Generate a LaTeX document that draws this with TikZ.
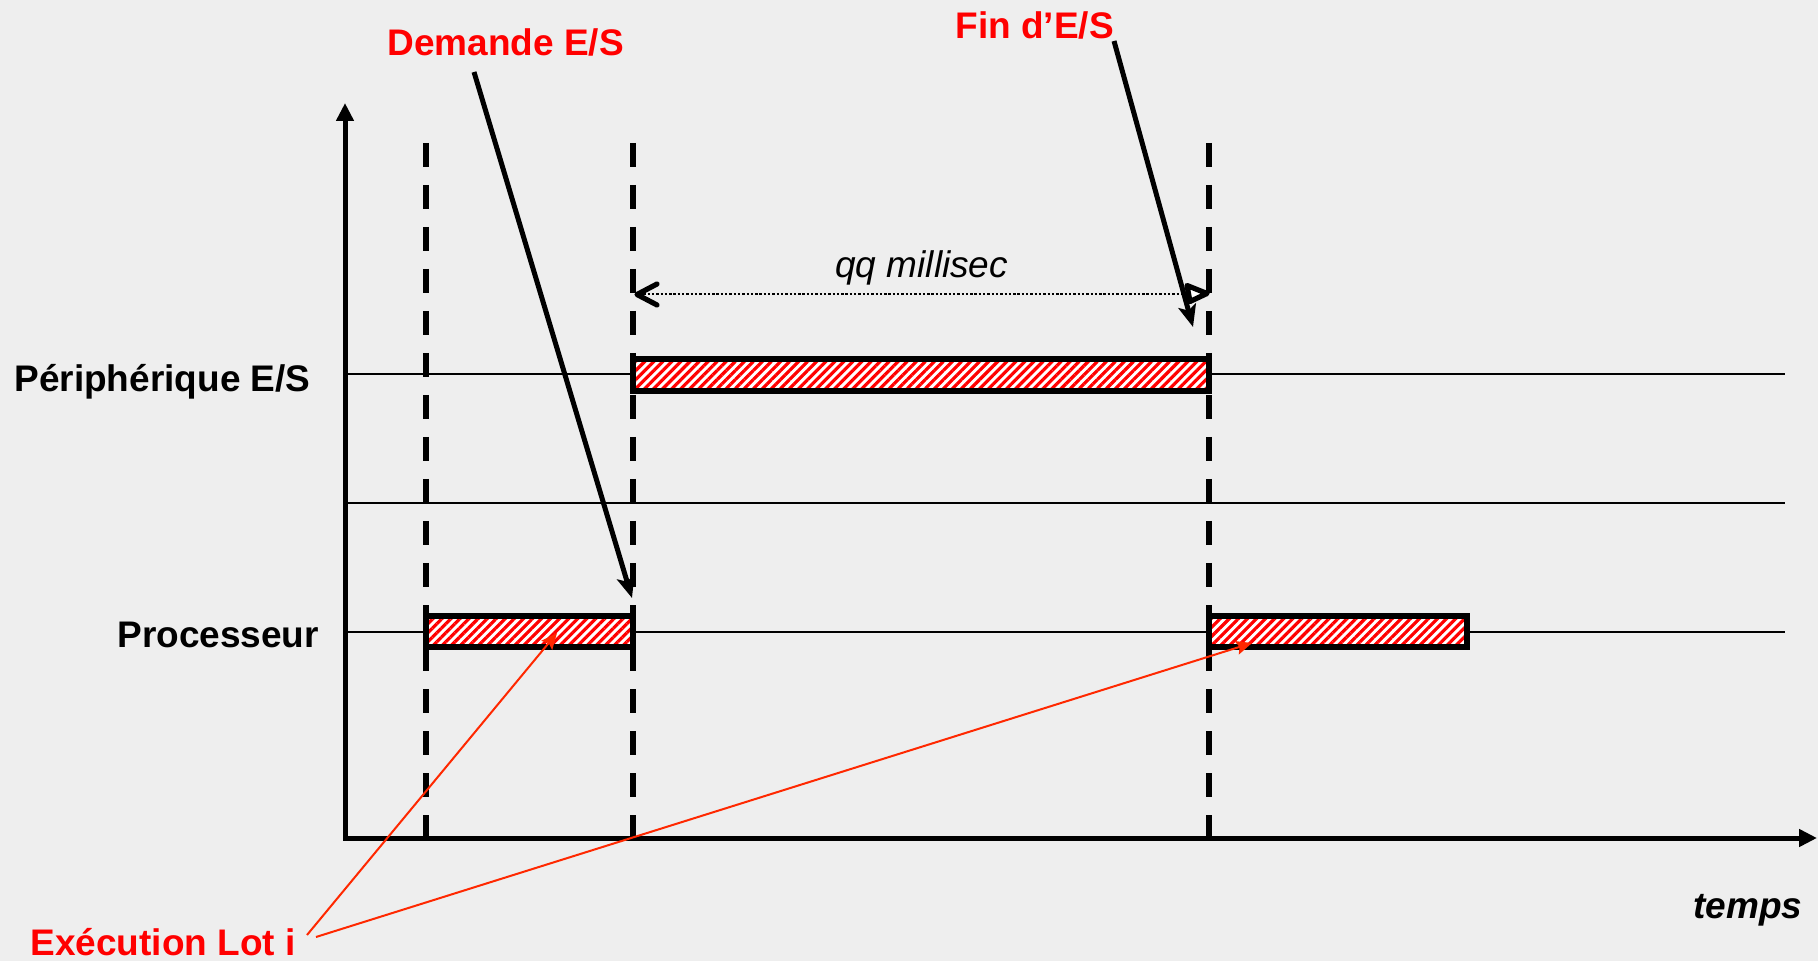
\documentclass[tikz,border=0pt]{standalone}
\usepackage{fontspec}
\setmainfont{Liberation Sans}
\usetikzlibrary{arrows.meta,patterns.meta}
\definecolor{bg}{RGB}{238,238,238}
\definecolor{ptred}{RGB}{255,40,0}

\begin{document}
\begin{tikzpicture}[x=0.5pt,y=-0.5pt,
  lbl/.style={anchor=base west, inner sep=0pt, font=\fontsize{18.5}{22}\selectfont\bfseries},
  redlbl/.style={lbl, text=red},
  axis/.style={line width=2.5pt, -{Triangle[length=9pt,width=8.5pt]}},
  track/.style={line width=1pt},
  epoch/.style={line width=3pt, dash pattern=on 12pt off 9pt},
  busy/.style={line width=3pt, preaction={fill=white},
    pattern={Lines[angle=45,distance=3.2pt,line width=1.6pt]}, pattern color=red},
  callout/.style={line width=2.5pt, -{Stealth[length=11pt,width=9pt,inset=2.5pt]}},
  redptr/.style={draw=ptred, line width=1pt, -{Stealth[length=8pt,width=7pt,inset=1.5pt]}},
  dots/.style={line width=1.2pt, dash pattern=on 1.2pt off 0.95pt},
  head/.style={line width=2.6pt, line join=round, line cap=round}
]
% canvas
\fill[bg] (0,0) rectangle (1818,961);
\useasboundingbox (0,0) rectangle (1818,961);

% key coordinates
\coordinate (origin) at (345,838);
\coordinate (ytip) at (345,103);
\coordinate (xtip) at (1817,838);
\coordinate (t0) at (426,143);
\coordinate (t1) at (633,143);
\coordinate (t2) at (1209,143);

% time tracks
\draw[track] (345,374.5) -- (1785,374.5);
\draw[track] (345,503) -- (1785,503);
\draw[track] (345,632) -- (1785,632);

% instants
\draw[epoch] (t0) -- (t0 |- origin);
\draw[epoch] (t1) -- (t1 |- origin);
\draw[epoch] (t2) -- (t2 |- origin);

% axes
\draw[axis] (345,840) -- (ytip);
\draw[axis] (343,838) -- (xtip);

% busy intervals
\path[busy, draw] (633,359) rectangle (1209,391);
\path[busy, draw] (426,615.5) rectangle (633,647);
\path[busy, draw] (1209,615.5) rectangle (1467,647);

% labels
\node[lbl] (dev) at (14,392) {Périphérique E/S};
\node[lbl] (cpu) at (117,647) {Processeur};
\node[redlbl] (req) at (387,56) {Demande E/S};
\node[redlbl] (fin) at (955,39) {Fin d’E/S};
\node[redlbl] (lot) at (30,955) {Exécution Lot i};
\node[anchor=base west, inner sep=0pt, font=\fontsize{18.5}{22}\selectfont\itshape] (ms) at (835,278) {qq millisec};
\node[anchor=base west, inner sep=0pt, font=\fontsize{18.5}{22}\selectfont\bfseries\itshape] (tm) at (1693,918) {temps};

% duration of the transfer: dotted span with an open barb and an open triangle
\coordinate (sa) at (639,294);
\coordinate (sb) at (1189,294);
\draw[dots] (sa) -- (sb);
\draw[head] (657,284) -- (637,294.5) -- (657,305);
\draw[head, fill=white] (1187,285.5) -- (1207,293.5) -- (1190,301.5) -- cycle;

% event pointers
\coordinate (reqfrom) at (474,72);
\coordinate (reqto) at (632,598);
\coordinate (finfrom) at (1114,41);
\coordinate (finto) at (1193,327);
\draw[callout] (reqfrom) -- (reqto);
\draw[callout] (finfrom) -- (finto);

\coordinate (lotA) at (307,935);
\coordinate (lotB) at (316,937);
\coordinate (runA) at (557,633);
\coordinate (runB) at (1252,643);
\draw[redptr] (lotA) -- (runA);
\draw[redptr] (lotB) -- (runB);
\end{tikzpicture}
\end{document}
